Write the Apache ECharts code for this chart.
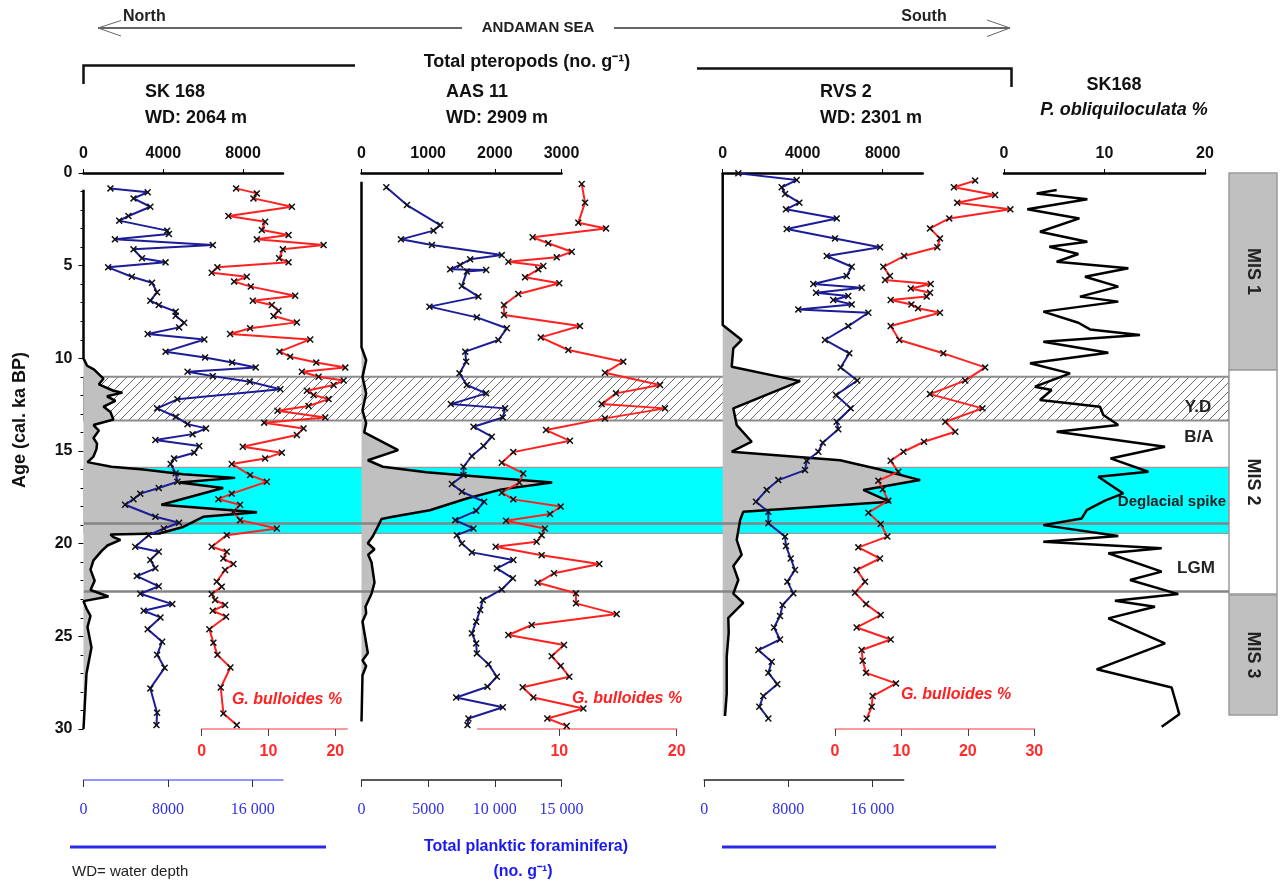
<!DOCTYPE html>
<html><head><meta charset="utf-8">
<script src="https://cdn.jsdelivr.net/npm/echarts@6/dist/echarts.min.js"></script>
<style>html,body{margin:0;padding:0;background:#fff}#c{width:1282px;height:884px}</style>
</head><body><div id="c"></div><script>
// ---------------- DATA: [age (cal. ka BP), value] ----------------
const sk168Ptero = [[0.9,0],[10.0,0],[10.4,180],[10.6,520],[11.1,1000],[11.4,770],[11.75,1500],[11.85,1950],[12.05,1180],[12.3,1600],[12.6,1000],[12.9,1350],[13.3,1500],[13.6,500],[13.9,770],[14.3,500],[14.6,680],[14.9,650],[15.3,500],[15.6,200],[15.85,1400],[16.0,3000],[16.25,5000],[16.45,7600],[16.7,4800],[17.0,7000],[17.9,3900],[18.3,8700],[18.55,6000],[19.1,5000],[19.45,3800],[19.5,1350],[19.65,1500],[19.8,1850],[20.1,1200],[20.4,900],[20.9,500],[21.4,350],[22.0,560],[22.5,350],[22.85,1250],[23.1,0],[23.5,150],[23.9,350],[24.5,200],[25.6,400],[27.0,150],[30,0]];
const sk168Foram = [[0.83,2550],[1.04,6070],[1.37,4730],[1.82,6320],[2.32,4250],[2.57,3380],[3.11,7920],[3.29,8080],[3.58,2970],[3.89,12230],[4.12,4730],[4.6,5530],[4.82,7760],[5.09,2330],[5.6,4570],[5.92,6480],[6.44,6960],[6.89,6320],[7.12,7120],[7.48,8720],[7.7,8720],[8.08,9520],[8.33,9040],[8.69,6070],[8.98,11430],[9.64,7760],[9.95,11500],[10.22,14060],[10.49,16290],[10.72,9840],[10.96,12230],[11.26,15740],[11.67,18620],[12.21,8880],[12.7,6960],[13.15,8720],[13.55,9840],[13.78,11590],[14.09,10320],[14.41,6800],[14.73,10950],[15.09,10470],[15.4,8560],[15.7,8240],[16.2,8720],[16.66,8880],[17.0,7120],[17.3,5370],[17.6,4730],[17.9,3930],[18.55,6800],[18.87,9040],[19.18,7600],[19.54,6160],[20.17,4890],[20.44,7120],[20.88,6320],[21.33,6800],[21.75,5050],[22.3,7120],[22.7,5370],[23.26,8400],[23.62,5690],[23.98,7280],[24.62,6070],[25.29,7440],[26.0,6960],[26.7,7670],[27.81,6320],[29.12,6960],[29.79,6900]];
const sk168Bull = [[0.83,5.15],[1.1,8.25],[1.37,7.75],[1.82,13.5],[2.32,4.0],[2.63,9.5],[3.08,9.0],[3.35,13.0],[3.58,8.25],[3.89,18.25],[4.12,12.15],[4.6,11.6],[4.82,13.0],[5.09,2.35],[5.38,1.5],[5.6,6.75],[5.86,4.85],[6.13,7.35],[6.62,14.0],[6.89,7.65],[7.12,10.5],[7.43,11.5],[7.72,10.75],[8.06,14.25],[8.38,7.25],[8.69,4.25],[8.98,16.25],[9.64,11.65],[9.91,13.25],[10.23,17.15],[10.5,21.5],[10.72,15.0],[10.99,17.5],[11.2,21.25],[11.44,19.75],[11.75,15.75],[11.98,16.75],[12.2,19.0],[12.57,16.0],[12.83,11.35],[13.19,18.5],[13.47,9.35],[13.78,15.25],[14.14,14.25],[14.77,6.15],[15.09,12.0],[15.4,9.5],[15.7,4.5],[16.3,7.25],[16.66,9.75],[17.3,4.5],[17.6,2.5],[17.9,5.75],[18.28,4.75],[18.73,5.75],[19.18,11.25],[19.54,3.75],[20.17,1.5],[20.44,3.75],[20.8,3.25],[21.1,4.75],[21.42,3.5],[22.05,2.25],[22.32,3.0],[22.72,1.5],[23.04,2.0],[23.31,3.5],[23.62,1.65],[23.94,3.65],[24.62,1.15],[25.34,1.75],[26.0,2.35],[26.68,4.3],[27.76,2.85],[29.16,3.25],[29.79,5.25]];

const aas11Ptero = [[0.47,0],[9.4,0],[10.1,70],[11.0,15],[11.9,70],[12.8,15],[13.5,70],[14.0,40],[14.95,550],[15.5,95],[15.85,320],[16.15,975],[16.4,1830],[16.7,2860],[17.07,2100],[17.56,1580],[18.2,1025],[18.55,470],[18.67,300],[19.08,245],[19.6,170],[19.98,95],[20.3,195],[20.6,100],[21.0,150],[22.1,195],[22.7,150],[23.4,60],[23.76,70],[24.2,15],[25.9,95],[26.3,15],[26.6,70],[27.1,15],[29.6,0]];
const aas11Foram = [[0.77,1860],[1.73,3410],[2.81,5900],[3.11,5400],[3.58,2960],[3.89,5280],[4.43,10520],[4.66,8150],[4.96,7400],[5.2,6650],[5.23,9350],[5.32,7900],[6.1,7530],[6.67,8770],[7.21,5100],[7.79,8650],[8.38,10900],[9.01,10270],[9.64,7780],[10.18,7850],[10.81,7350],[11.44,7900],[11.89,9350],[12.47,6700],[12.7,10770],[13.19,10600],[13.69,8400],[14.23,9770],[14.73,9150],[15.27,8280],[15.85,7650],[16.3,7650],[16.78,6780],[17.2,7530],[17.74,9200],[18.23,8600],[18.73,7030],[19.18,8400],[19.54,7150],[19.99,7530],[20.47,8280],[20.88,11390],[21.33,10150],[21.87,11350],[22.47,10520],[23.04,9100],[23.58,8900],[24.21,8600],[24.84,8280],[25.38,8600],[25.92,8650],[26.5,9520],[27.18,10150],[27.72,9450],[28.3,7100],[28.83,10600],[29.43,8020],[29.79,7950]];
const aas11Bull = [[0.59,11.91],[1.6,12.19],[2.68,11.62],[2.99,13.98],[3.47,7.73],[3.79,9.06],[4.25,11.06],[4.55,9.78],[4.79,5.66],[5.02,8.64],[5.2,8.21],[5.63,7.08],[5.95,10.0],[6.53,6.51],[7.12,5.29],[7.66,5.29],[8.26,11.76],[8.87,8.42],[9.55,10.77],[10.18,15.45],[10.78,13.89],[11.44,18.58],[11.89,14.83],[12.47,13.61],[12.7,19.0],[13.24,13.89],[13.87,8.87],[14.45,10.91],[15.06,6.08],[15.63,5.1],[16.21,6.93],[16.7,6.6],[17.25,5.1],[17.61,6.08],[18.0,10.12],[18.4,9.21],[18.76,5.46],[19.18,8.78],[19.54,8.5],[19.9,8.07],[20.17,4.58],[20.62,8.5],[21.1,13.41],[21.6,9.55],[22.11,8.16],[22.68,11.42],[23.22,11.42],[23.8,14.89],[24.39,7.65],[24.93,5.66],[25.47,10.4],[26.07,9.35],[26.6,10.12],[27.18,10.85],[27.75,6.88],[28.3,7.79],[28.89,12.05],[29.43,8.98],[29.84,10.63]];

const rvs2Ptero = [[0,0],[8.2,0],[9.01,950],[9.46,530],[10.45,450],[11.23,3870],[12.7,530],[13.6,700],[14.5,1450],[15.04,450],[15.5,5870],[16.0,7870],[16.57,9870],[17.1,7030],[17.74,8370],[18.28,1030],[18.73,870],[19.8,700],[20.6,950],[21.2,530],[21.96,780],[22.7,530],[23.2,1030],[24.0,280],[24.8,300],[26.1,200],[28.1,200],[29.3,115]];
const rvs2Foram = [[0.02,3250],[0.38,8810],[0.77,7380],[1.13,7700],[1.6,9060],[1.96,7790],[2.45,12620],[3.02,7860],[3.53,12460],[4.01,16750],[4.48,11670],[5.06,14050],[5.56,13570],[5.99,10390],[6.19,15000],[6.46,10650],[6.64,13720],[6.85,12290],[7.09,14050],[7.36,8960],[7.54,15630],[8.26,13720],[9.01,11500],[9.73,13820],[10.49,13000],[11.2,14580],[11.98,12550],[12.7,13950],[13.42,12620],[13.83,12770],[14.55,11290],[15.04,10870],[15.53,9760],[16.03,9600],[16.57,7060],[17.1,5950],[17.74,4930],[18.28,6110],[18.9,6110],[19.62,7700],[20.13,7790],[20.8,8240],[21.42,8650],[22.05,7920],[22.68,8490],[23.31,7470],[23.9,7220],[24.52,6650],[25.17,7220],[25.74,5160],[26.37,6430],[26.97,6110],[27.58,6960],[28.22,5630],[28.8,5250],[29.43,6110]];
const rvs2Bull = [[0.41,21.1],[0.77,17.9],[1.19,24.1],[1.6,18.4],[1.96,26.4],[2.45,17.2],[2.99,14.3],[3.53,15.8],[4.01,15.4],[4.48,10.4],[5.06,7.27],[5.56,8.28],[5.77,7.53],[5.99,14.4],[6.23,11.4],[6.46,14.3],[6.67,13.8],[6.85,8.38],[7.09,11.5],[7.3,12.5],[7.54,15.8],[8.26,8.38],[9.01,9.68],[9.73,16.3],[10.49,22.6],[11.2,19.6],[11.93,14.3],[12.7,22.2],[13.42,16.6],[13.96,18.1],[14.5,13.4],[15.04,10.3],[15.53,8.38],[16.12,9.53],[16.6,6.52],[17.07,7.18],[17.68,8.03],[18.33,5.02],[18.94,6.88],[19.62,7.88],[20.2,3.51],[20.8,6.77],[21.42,3.26],[22.05,4.52],[22.65,3.01],[23.26,4.67],[23.85,6.88],[24.52,3.26],[25.17,8.38],[25.74,4.01],[26.32,4.17],[26.97,4.67],[27.54,9.18],[28.22,5.67],[28.8,5.52],[29.43,4.77]];

const sk168Pobl = [[0.92,5.24],[1.1,3.25],[1.42,8.29],[1.96,2.32],[2.45,7.5],[3.17,3.58],[3.71,8.29],[3.98,4.51],[4.37,7.4],[4.79,5.24],[5.14,12.37],[5.6,8.06],[6.13,11.37],[6.67,7.56],[6.94,11.37],[7.48,3.91],[8.08,7.4],[8.44,8.56],[8.74,13.53],[9.1,3.91],[9.7,10.38],[10.27,2.59],[10.81,6.57],[11.53,3.08],[11.71,4.74],[12.25,3.58],[12.61,9.55],[13.06,9.88],[13.6,11.37],[13.96,5.24],[14.77,16.02],[15.4,10.6],[16.12,14.36],[16.39,9.38],[17.29,11.87],[17.68,10.05],[18.19,8.23],[18.64,7.73],[19.0,3.91],[19.59,11.37],[19.9,3.91],[20.25,15.69],[20.52,10.38],[21.51,15.69],[21.96,12.54],[22.72,17.34],[23.08,11.04],[23.4,15.02],[24.03,10.38],[25.38,16.02],[26.78,9.22],[27.76,16.68],[29.2,17.44],[29.88,15.69]];

// bands / stages (age limits)
const bandYD = [11.0, 13.35];
const bandDeglacial = [15.88, 19.45];
const lineAges = [18.92, 22.55];
const misStages = [['MIS 1', 0, 10.63, '#c0c0c0'], ['MIS 2', 10.63, 22.72, '#ffffff'], ['MIS 3', 22.77, 29.25, '#c0c0c0']];

// tick labels
const yTicks = [0, 5, 10, 15, 20, 25, 30];
const ptero1Ticks = [0, 4000, 8000], ptero2Ticks = [0, 1000, 2000, 3000], ptero3Ticks = [0, 4000, 8000], poblTicks = [0, 10, 20];
const foram1Ticks = [0, 8000, 16000], foram2Ticks = [0, 5000, 10000, 15000], foram3Ticks = [0, 8000, 16000];
const bull1Ticks = [0, 10, 20], bull2Ticks = [10, 20], bull3Ticks = [0, 10, 20, 30];

// ---------------- CHART ----------------
const FONT = 'Liberation Sans, Arial, sans-serif';
const TOP = 173, H = 556;
const CROSS = 'path://M0,1.5L1.5,0L5,3.5L8.5,0L10,1.5L6.5,5L10,8.5L8.5,10L5,6.5L1.5,10L0,8.5L3.5,5Z';
const fmt = v => v >= 10000 ? Math.floor(v / 1000) + ' ' + String(v % 1000).padStart(3, '0') : String(v);

const hc = document.createElement('canvas'); hc.width = 9; hc.height = 9;
const hg = hc.getContext('2d'); hg.fillStyle = '#fff'; hg.fillRect(0, 0, 9, 9);
hg.strokeStyle = '#6a6a6a'; hg.lineWidth = 1; hg.beginPath();
hg.moveTo(-1, 10); hg.lineTo(10, -1); hg.moveTo(-5, 4.5); hg.lineTo(4.5, -5); hg.moveTo(4.5, 14); hg.lineTo(14, 4.5); hg.stroke();
const hatch = { image: hc, repeat: 'repeat' };

const grids = [
  [83.5, 199.5],   // 0 SK168 main
  [201.7, 145.6],  // 1 SK168 bulloides
  [361.5, 200],    // 2 AAS11 main
  [477.7, 199],    // 3 AAS11 bulloides
  [722.7, 200],    // 4 RVS2 pteropods
  [704.2, 199.5],  // 5 RVS2 foram
  [835, 199.3],    // 6 RVS2 bulloides
  [1004, 201],     // 7 P. obliquiloculata
  [84, 1145],      // 8 background bands
  [1229, 48]       // 9 MIS
].map(g => ({ left: g[0], width: g[1], top: TOP, height: H }));

const yAxes = grids.map((g, i) => ({
  type: 'value', gridIndex: i, min: 0, max: 30, inverse: true, show: i === 0,
  splitLine: { show: false }, axisLine: { show: false, onZero: false },
  axisTick: { show: true, length: 5, customValues: yTicks, lineStyle: { color: '#000' } },
  minorTick: { show: true, splitNumber: 5, length: 3, lineStyle: { color: '#000' } },
  axisLabel: { customValues: yTicks, margin: 11, fontFamily: FONT, fontWeight: 'bold', fontSize: 16, color: '#111' }
}));

function topAx(gi, max, ticks) {
  return { type: 'value', gridIndex: gi, position: 'top', min: 0, max: max, splitLine: { show: false },
    axisLine: { onZero: false, lineStyle: { color: '#000', width: 2.5 } },
    axisTick: { customValues: ticks, length: 4, lineStyle: { color: '#000', width: 1 } },
    axisLabel: { customValues: ticks, formatter: fmt, margin: 11, fontFamily: FONT, fontWeight: 'bold', fontSize: 16, color: '#111' } };
}
function redAx(gi, min, max, ticks) {
  return { type: 'value', gridIndex: gi, position: 'bottom', min: min, max: max, splitLine: { show: false },
    axisLine: { onZero: false, lineStyle: { color: '#ff7a7a', width: 1.5 } },
    axisTick: { customValues: ticks, length: 7, lineStyle: { color: '#444', width: 1 } },
    axisLabel: { customValues: ticks, margin: 15, fontFamily: FONT, fontWeight: 'bold', fontSize: 16, color: '#ff2a2a' } };
}
function foramAx(gi, max, ticks, lineColor) {
  return { type: 'value', gridIndex: gi, position: 'bottom', offset: 51, min: 0, max: max, splitLine: { show: false },
    axisLine: { onZero: false, lineStyle: { color: lineColor, width: 1.5 } },
    axisTick: { customValues: ticks, length: 7, lineStyle: { color: '#333', width: 1 } },
    axisLabel: { customValues: ticks, formatter: fmt, margin: 22, fontFamily: 'Liberation Serif, Times New Roman, serif', fontSize: 16, color: '#3030e8' } };
}
function hidAx(gi) { return { type: 'value', gridIndex: gi, min: 0, max: 1, show: false }; }

const xAxes = [
  topAx(0, 10000, ptero1Ticks),           // 0
  foramAx(0, 18870, foram1Ticks, '#7070ff'), // 1
  redAx(1, 0, 21.8, bull1Ticks),          // 2
  topAx(2, 3000, ptero2Ticks),            // 3
  foramAx(2, 15000, foram2Ticks, '#222'),  // 4
  redAx(3, 3.05, 20, bull2Ticks),         // 5
  topAx(4, 10000, ptero3Ticks),           // 6
  foramAx(5, 19000, foram3Ticks, '#222'),  // 7
  redAx(6, 0, 30, bull3Ticks),            // 8
  topAx(7, 20, poblTicks),                // 9
  hidAx(8),                               // 10
  hidAx(9)                                // 11
];

const xy = d => d.map(p => [p[1], p[0]]);
function line(xi, yi, data, color, width, markers) {
  return { type: 'line', xAxisIndex: xi, yAxisIndex: yi, data: xy(data), showSymbol: markers, symbol: CROSS, symbolSize: 7,
    itemStyle: { color: '#111' }, lineStyle: { color: color, width: width }, z: 5, clip: false, silent: true };
}
function area(xi, yi, data) {
  const pts = xy(data);
  return { type: 'custom', xAxisIndex: xi, yAxisIndex: yi, data: [pts[0]], z: 3, silent: true, clip: false,
    renderItem: (p, api) => {
      const poly = [api.coord([0, pts[0][1]])];
      pts.forEach(q => poly.push(api.coord(q)));
      poly.push(api.coord([0, pts[pts.length - 1][1]]));
      return { type: 'polygon', shape: { points: poly }, style: { fill: '#c0c0c0' } };
    } };
}
const BLUE = '#1c1c96', RED = '#ff2020';
const series = [
  { type: 'line', xAxisIndex: 10, yAxisIndex: 8, data: [], z: 1, silent: true,
    markArea: { silent: true, data: [
      [{ yAxis: bandYD[0], itemStyle: { color: hatch, borderColor: '#8c8c8c', borderWidth: 2 } }, { yAxis: bandYD[1] }],
      [{ yAxis: bandDeglacial[0], itemStyle: { color: '#00ffff', borderColor: '#999', borderWidth: 1.2 } }, { yAxis: bandDeglacial[1] }]
    ] },
    markLine: { silent: true, symbol: 'none', label: { show: false }, lineStyle: { color: '#858585', width: 2.5, type: 'solid' },
      data: lineAges.map(a => ({ yAxis: a })) } },
  { type: 'line', xAxisIndex: 11, yAxisIndex: 9, data: [], silent: true,
    markArea: { silent: true, data: misStages.map(m => [
      { name: m[0], yAxis: m[1], itemStyle: { color: m[3], borderColor: '#9a9a9a', borderWidth: 1.5 },
        label: { show: true, position: 'inside', rotate: -90, fontFamily: FONT, fontWeight: 'bold', fontSize: 18, color: '#222' } },
      { yAxis: m[2] }]) } },
  area(0, 0, sk168Ptero), line(0, 0, sk168Ptero, '#000', 2.5, false),
  line(1, 0, sk168Foram, BLUE, 2, true),
  line(2, 1, sk168Bull, RED, 2, true),
  area(3, 2, aas11Ptero), line(3, 2, aas11Ptero, '#000', 2.5, false),
  line(4, 2, aas11Foram, BLUE, 2, true),
  line(5, 3, aas11Bull, RED, 2, true),
  area(6, 4, rvs2Ptero), line(6, 4, rvs2Ptero, '#000', 2.5, false),
  line(7, 5, rvs2Foram, BLUE, 2, true),
  line(8, 6, rvs2Bull, RED, 2, true),
  line(9, 7, sk168Pobl, '#000', 2.5, false)
];

function txt(x, y, text, font, fill, align, extra) {
  return Object.assign({ type: 'text', x: x, y: y, z: 100, silent: true,
    style: { text: text, font: font, fill: fill || '#111', textAlign: align || 'center', textVerticalAlign: 'middle' } }, extra || {});
}
const B16 = 'bold 16px ' + FONT, B18 = 'bold 18px ' + FONT;
const graphic = [
  { type: 'line', z: 100, shape: { x1: 98, y1: 28, x2: 462, y2: 28 }, style: { stroke: '#333', lineWidth: 1.5 } },
  { type: 'line', z: 100, shape: { x1: 614, y1: 28, x2: 1010, y2: 28 }, style: { stroke: '#333', lineWidth: 1.5 } },
  { type: 'polyline', z: 100, shape: { points: [[121, 20.5], [98, 28], [121, 36]] }, style: { stroke: '#666', lineWidth: 1, fill: null } },
  { type: 'polyline', z: 100, shape: { points: [[987, 20], [1010, 28], [987, 36.5]] }, style: { stroke: '#666', lineWidth: 1, fill: null } },
  txt(123, 17, 'North', B16, '#222', 'left'),
  txt(924, 17, 'South', B16, '#222'),
  txt(538, 28, 'ANDAMAN SEA', 'bold 15px ' + FONT, '#222'),
  { type: 'polyline', z: 100, shape: { points: [[83.5, 84], [83.5, 65.5], [355, 65.5]] }, style: { stroke: '#111', lineWidth: 2.5, fill: null } },
  { type: 'polyline', z: 100, shape: { points: [[697, 68.5], [1011.5, 68.5], [1011.5, 87]] }, style: { stroke: '#111', lineWidth: 2.5, fill: null } },
  txt(527, 62, 'Total pteropods (no. g\u207B\u00B9)', B18, '#111'),
  txt(145, 92, 'SK 168', B18, '#111', 'left'), txt(145, 118, 'WD: 2064 m', B18, '#111', 'left'),
  txt(446, 92, 'AAS 11', B18, '#111', 'left'), txt(446, 118, 'WD: 2909 m', B18, '#111', 'left'),
  txt(820, 92, 'RVS 2', B18, '#111', 'left'), txt(820, 118, 'WD: 2301 m', B18, '#111', 'left'),
  txt(1114, 85, 'SK168', B18, '#111'),
  txt(1124, 110, 'P. obliquiloculata %', 'italic bold 18px ' + FONT, '#111'),
  txt(20, 420, 'Age (cal. ka BP)', B18, '#111', 'center', { rotation: Math.PI / 2 }),
  txt(287, 700, 'G. bulloides %', 'italic bold 16px ' + FONT, '#ff2020'),
  txt(627, 699, 'G. bulloides %', 'italic bold 16px ' + FONT, '#ff2020'),
  txt(956, 695, 'G. bulloides %', 'italic bold 16px ' + FONT, '#ff2020'),
  txt(1198, 407, 'Y.D', 'bold 17px ' + FONT, '#222'),
  txt(1199, 437, 'B/A', 'bold 17px ' + FONT, '#222'),
  txt(1172, 502, 'Deglacial spike', 'bold 15px ' + FONT, '#222'),
  txt(1196, 568, 'LGM', 'bold 17px ' + FONT, '#222'),
  { type: 'line', z: 100, shape: { x1: 70, y1: 847, x2: 326, y2: 847 }, style: { stroke: '#2a2ae6', lineWidth: 3 } },
  { type: 'line', z: 100, shape: { x1: 722, y1: 847, x2: 996, y2: 847 }, style: { stroke: '#2a2ae6', lineWidth: 3 } },
  txt(526, 847, 'Total planktic foraminifera)', 'bold 16px ' + FONT, '#1a1af0'),
  txt(523, 872, '(no. g\u207B\u00B9)', 'bold 16px ' + FONT, '#1a1af0'),
  txt(72, 872, 'WD= water depth', '15px ' + FONT, '#222', 'left')
];

const chart = echarts.init(document.getElementById('c'), null, { renderer: 'canvas' });
chart.setOption({ animation: false, backgroundColor: '#fff', grid: grids, xAxis: xAxes, yAxis: yAxes, series: series, graphic: graphic });
</script></body></html>
